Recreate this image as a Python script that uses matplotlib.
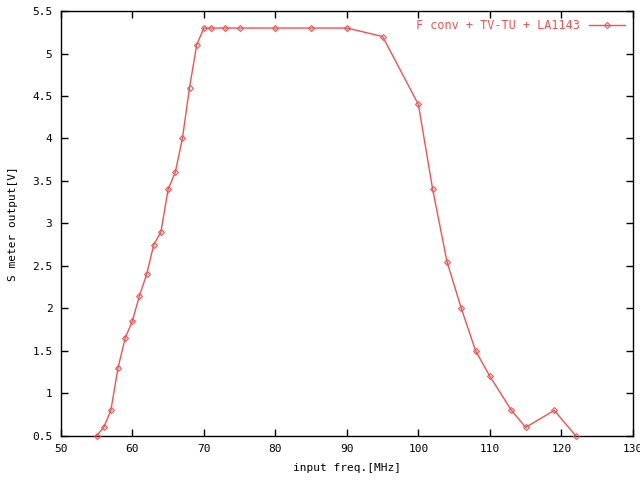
import matplotlib
matplotlib.use("Agg")
import matplotlib.pyplot as plt

# input frequency [MHz] vs S meter output [V]
freq = [55, 56, 57, 58, 59, 60, 61, 62, 63, 64, 65, 66, 67, 68, 69, 70,
        71, 73, 75, 80, 85, 90, 95, 100, 102, 104, 106, 108, 110, 113,
        115, 119, 122]
smeter = [0.5, 0.6, 0.8, 1.3, 1.65, 1.85, 2.15, 2.4, 2.75, 2.9, 3.4, 3.6,
          4.0, 4.6, 5.1, 5.3, 5.3, 5.3, 5.3, 5.3, 5.3, 5.3, 5.2, 4.4, 3.4,
          2.55, 2.0, 1.5, 1.2, 0.8, 0.6, 0.8, 0.5]

xticks = [50, 60, 70, 80, 90, 100, 110, 120, 130]
yticks = [0.5, 1, 1.5, 2, 2.5, 3, 3.5, 4, 4.5, 5, 5.5]
ytick_labels = ["0.5", "1", "1.5", "2", "2.5", "3", "3.5", "4", "4.5", "5", "5.5"]

RED = "#ff4c4c"
plt.rcParams["font.family"] = "DejaVu Sans Mono"
plt.rcParams["font.size"] = 8

fig = plt.figure(figsize=(6.4, 4.8), dpi=100)
ax = fig.add_axes([0.095, 0.092, 0.894, 0.885])

ax.plot(freq, smeter, "-", color=RED, lw=1, marker="D", ms=3,
        mfc="none", mec=RED, mew=0.8, label="F conv + TV-TU + LA1143",
        clip_on=False, zorder=3)

ax.set_xlim(50, 130)
ax.set_ylim(0.5, 5.5)
ax.set_xticks(xticks)
ax.set_yticks(yticks)
ax.set_yticklabels(ytick_labels)
ax.tick_params(direction="in", top=True, right=True, length=5, width=1, pad=6)
for s in ax.spines.values():
    s.set_linewidth(1)

ax.set_xlabel("input freq.[MHz]", labelpad=6)
ax.set_ylabel("S meter output[V]", labelpad=10)

leg = ax.legend(loc="upper right", frameon=False, markerfirst=False,
                handlelength=3, borderaxespad=0.3, labelcolor=RED,
                prop={"size": 8.5})

fig.savefig("out.png", dpi=100)
